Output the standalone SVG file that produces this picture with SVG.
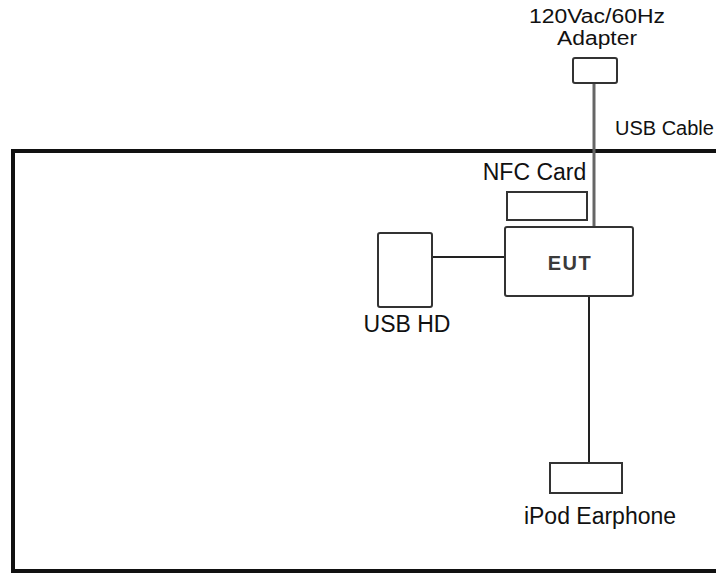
<svg xmlns="http://www.w3.org/2000/svg" width="716" height="574" viewBox="0 0 716 574">
<style>
.box{fill:#fff;stroke:#333;stroke-width:2}
.lbl{font-family:"Liberation Sans",Arial,sans-serif;font-size:23px;fill:#111}
.wire{stroke:#222;stroke-width:2;fill:none}
</style>
<rect width="716" height="574" fill="#fff"/>
<path d="M716,151 H13 V571 H716" fill="none" stroke="#111" stroke-width="4"/>
<g id="connectors">
<line class="wire" x1="594" y1="83" x2="594" y2="227" style="stroke:#666;stroke-width:3"/>
<line class="wire" x1="432" y1="257" x2="505" y2="257"/>
<line class="wire" x1="589" y1="296" x2="589" y2="463"/>
</g>
<g id="adapter">
<rect class="box" x="573" y="58" width="44" height="25" rx="2"/>
<text class="lbl" x="597" y="23" text-anchor="middle" style="font-size:20px" textLength="136" lengthAdjust="spacingAndGlyphs">120Vac/60Hz</text>
<text class="lbl" x="597" y="45" text-anchor="middle" style="font-size:20px" textLength="80" lengthAdjust="spacingAndGlyphs">Adapter</text>
</g>
<g id="usbcable">
<text class="lbl" x="615" y="135" style="font-size:20px">USB Cable</text>
</g>
<g id="nfc">
<rect class="box" x="507" y="192" width="80" height="28"/>
<text class="lbl" x="534.5" y="180" text-anchor="middle">NFC Card</text>
</g>
<g id="eut">
<rect class="box" x="505" y="227" width="128" height="69" rx="2"/>
<text x="570" y="270" text-anchor="middle" font-family="Liberation Sans,Arial,sans-serif" font-size="20" font-weight="bold" fill="#3a3a3a" letter-spacing="1.5">EUT</text>
</g>
<g id="usbhd">
<rect class="box" x="378" y="233" width="54" height="74" rx="2"/>
<text class="lbl" x="407" y="332" text-anchor="middle">USB HD</text>
</g>
<g id="earphone">
<rect class="box" x="550" y="463" width="72" height="30"/>
<text class="lbl" x="600" y="524" text-anchor="middle">iPod Earphone</text>
</g>
</svg>
